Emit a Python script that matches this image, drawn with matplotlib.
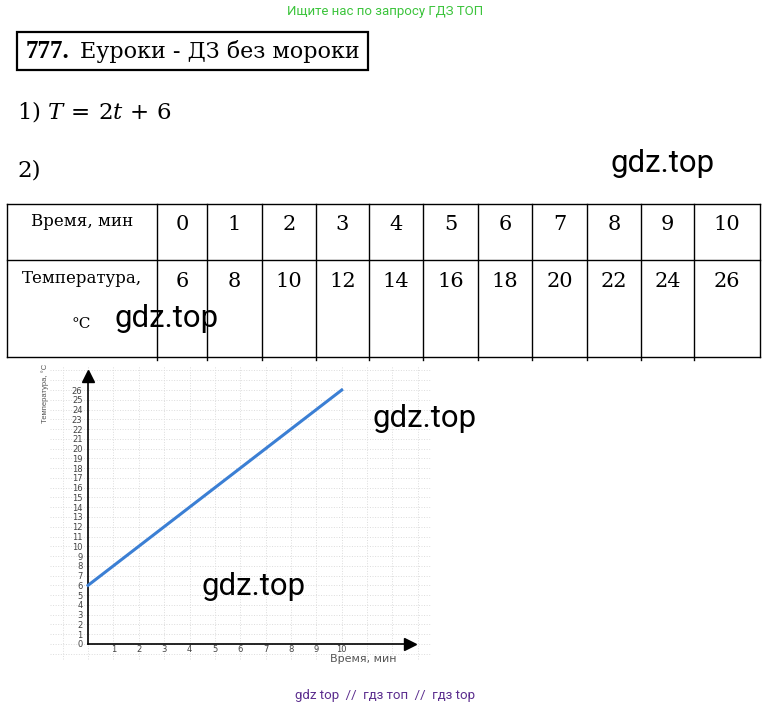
import matplotlib
matplotlib.use("Agg")
import matplotlib.pyplot as plt
from matplotlib.patches import Rectangle

# ---------------- data ----------------
time_min = [0, 1, 2, 3, 4, 5, 6, 7, 8, 9, 10]
temperature = [6, 8, 10, 12, 14, 16, 18, 20, 22, 24, 26]
x_tick_labels = ["1", "2", "3", "4", "5", "6", "7", "8", "9", "10"]
y_tick_values = list(range(0, 27))
row_headers = ["Время, мин", "Температура,"]
title_num = "777."
title_text = "Еуроки - ДЗ без мороки"
equation = r"$\mathrm{1)}\ T\,=\,2t\,+\,6$"
watermark = "gdz.top"
top_banner = "Ищите нас по запросу ГДЗ ТОП"
bottom_banner = "gdz top  //  гдз топ  //  гдз top"

plt.rcParams["mathtext.fontset"] = "dejavuserif"

W, H = 770, 707
fig = plt.figure(figsize=(W / 100, H / 100), dpi=100)
fig.patch.set_facecolor("white")

page = fig.add_axes([0, 0, 1, 1])
page.set_xlim(0, W)
page.set_ylim(H, 0)
page.axis("off")
page.patch.set_alpha(0)


def ftxt(x, y, s, **kw):
    fig.text(x / W, 1 - y / H, s, **kw)


serif = "DejaVu Serif"

# top banner
ftxt(385, 11, top_banner, ha="center", va="center", fontsize=9.5,
     family="Roboto", color="#3cc43c")

# title box
page.add_patch(Rectangle((17, 32), 351, 38, fill=False, lw=1.6, ec="black"))
ftxt(26, 58, title_num, ha="left", va="baseline", fontsize=18,
     family="Liberation Serif", weight="bold")
ftxt(80, 58, title_text, ha="left", va="baseline", fontsize=16, family=serif)

# equation and item 2
ftxt(17, 119, equation, ha="left", va="baseline", fontsize=16.5, family=serif)
ftxt(17, 177, "2)", ha="left", va="baseline", fontsize=16.5, family=serif)

# ---------------- table ----------------
col_x = [7, 157, 207, 262, 316, 369, 423, 478, 532, 587, 641, 694, 760]
row_y = [204, 260, 357]
for y in row_y:
    page.plot([col_x[0], col_x[-1]], [y, y], color="black", lw=1.0)
for i, x in enumerate(col_x):
    page.plot([x, x], [row_y[0], row_y[-1] + (0 if i in (0, len(col_x) - 1) else 3)],
              color="black", lw=1.0)

ftxt((col_x[0] + col_x[1]) / 2, 226, row_headers[0], ha="center", va="baseline",
     fontsize=12, family=serif)
ftxt((col_x[0] + col_x[1]) / 2, 283, row_headers[1], ha="center", va="baseline",
     fontsize=12, family=serif)
ftxt(81, 328, "°C", ha="center", va="baseline", fontsize=11, family=serif)

for i, (t, T) in enumerate(zip(time_min, temperature)):
    cx = (col_x[i + 1] + col_x[i + 2]) / 2
    ftxt(cx, 230, str(t), ha="center", va="baseline", fontsize=15, family=serif)
    ftxt(cx, 287, str(T), ha="center", va="baseline", fontsize=15, family=serif)

# ---------------- chart ----------------
px0, px1 = 37.3, 430.5
py_top, py_bot = 365.6, 663.5
ax = fig.add_axes([px0 / W, 1 - py_bot / H, (px1 - px0) / W, (py_bot - py_top) / H])
ax.set_xlim(-2, 13.5)
ax.set_ylim(-2, 28.5)
ax.patch.set_alpha(0)

for s in ("top", "right"):
    ax.spines[s].set_visible(False)
ax.spines["left"].set_position(("data", 0))
ax.spines["bottom"].set_position(("data", 0))
ax.spines["left"].set_bounds(0, 27.4)
ax.spines["bottom"].set_bounds(0, 12.7)
for s in ("left", "bottom"):
    ax.spines[s].set_linewidth(1.2)
ax.plot([0], [27.4], marker="^", color="black", ms=8, clip_on=False, zorder=5)
ax.plot([12.7], [0], marker=">", color="black", ms=8, clip_on=False, zorder=5)

# faint dotted grid
ax.hlines(range(-1, 29), -1.5, 13.5, colors="#dcdcdc", linestyles=":", lw=0.7, zorder=0)
ax.vlines(range(-1, 14), -1.5, 28.5, colors="#dcdcdc", linestyles=":", lw=0.7, zorder=0)

ax.set_xticks(time_min[1:])
ax.set_xticklabels(x_tick_labels)
ax.set_yticks(y_tick_values)
ax.set_yticklabels([str(v) for v in y_tick_values])
ax.tick_params(axis="x", length=0, pad=1, labelsize=6, labelcolor="#444444")
ax.tick_params(axis="y", length=0, pad=4, labelsize=6, labelcolor="#444444")

ax.plot(time_min, temperature, color="#3b7fd4", lw=2.2, zorder=4)

ax.set_xlabel("Время, мин", fontsize=8, color="#555555")
ax.xaxis.set_label_coords(10.85, -1.5, transform=ax.transData)
ax.xaxis.label.set_va("center")
ax.set_ylabel("Температура, °С", fontsize=5.5, color="#555555", family="Liberation Sans")
ax.yaxis.set_label_coords(-1.69, 25.7, transform=ax.transData)
ax.yaxis.label.set_va("center")

# watermarks
for (wx, wy) in [(610, 172), (115, 327), (373, 427), (202, 595)]:
    ftxt(wx, wy, watermark, ha="left", va="baseline", fontsize=22.4,
         family="Roboto", color="black", zorder=20)

ftxt(385, 696, bottom_banner, ha="center", va="center", fontsize=9.5,
     family=["Roboto", "DejaVu Sans"], color="#5b2d8e")

fig.savefig("out.png", dpi=100, facecolor="white")
